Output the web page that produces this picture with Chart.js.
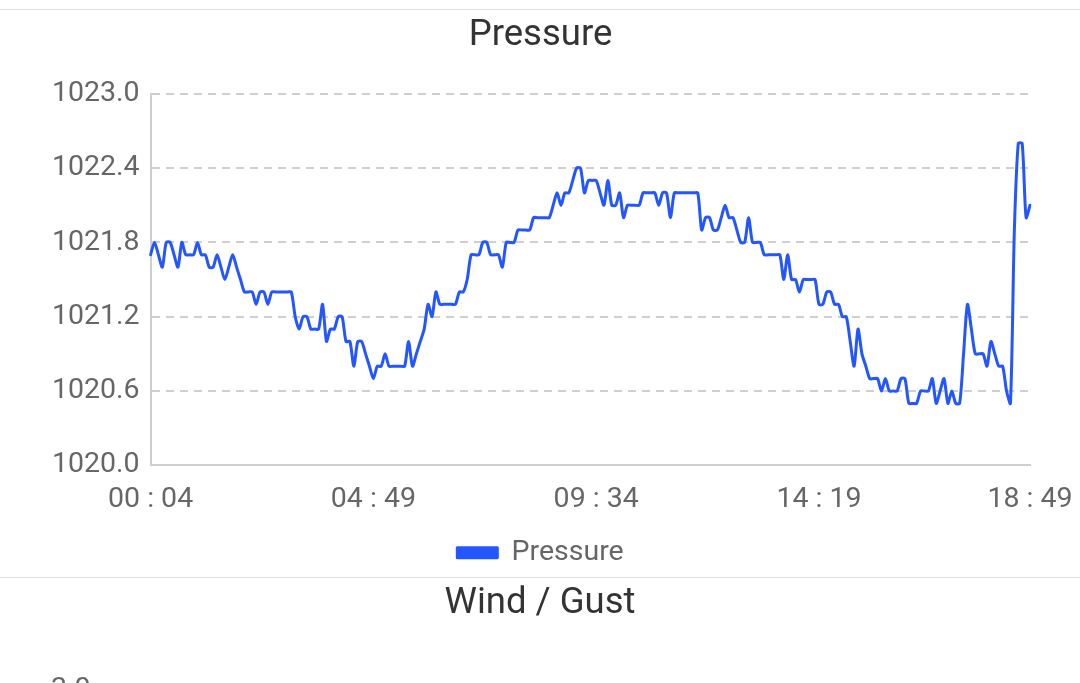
<!DOCTYPE html>
<html>
<head>
<meta charset="utf-8">
<script src="https://cdn.jsdelivr.net/npm/chart.js@4.4.1/dist/chart.umd.min.js"></script>
<style>
  html, body { margin: 0; padding: 0; background: #fff; overflow: hidden; }
  body { width: 1080px; height: 683px; font-family: Roboto, sans-serif; }
  .card { position: absolute; left: 0; width: 1080px; border-top: 1px solid #e3e3e3; }
  #c1 { top: 9px; height: 567px; }
  #c2 { top: 577px; height: 560px; }
  canvas { display: block; }
</style>
</head>
<body>
<div class="card" id="c1"><canvas id="pressure" width="1080" height="567"></canvas></div>
<div class="card" id="c2"><canvas id="wind" width="1080" height="560"></canvas></div>
<script>
// ---- data ----
const startTime = '00:04';
const stepMinutes = 5;
const pressure = [
  1021.7, 1021.8, 1021.7, 1021.6, 1021.8, 1021.8, 1021.7, 1021.6, 1021.8, 1021.7,
  1021.7, 1021.7, 1021.8, 1021.7, 1021.7, 1021.6, 1021.6, 1021.7, 1021.6, 1021.5,
  1021.6, 1021.7, 1021.6, 1021.5, 1021.4, 1021.4, 1021.4, 1021.3, 1021.4, 1021.4,
  1021.3, 1021.4, 1021.4, 1021.4, 1021.4, 1021.4, 1021.4, 1021.2, 1021.1, 1021.2,
  1021.2, 1021.1, 1021.1, 1021.1, 1021.3, 1021.0, 1021.1, 1021.1, 1021.2, 1021.2,
  1021.0, 1021.0, 1020.8, 1021.0, 1021.0, 1020.9, 1020.8, 1020.7, 1020.8, 1020.8,
  1020.9, 1020.8, 1020.8, 1020.8, 1020.8, 1020.8, 1021.0, 1020.8, 1020.9, 1021.0,
  1021.1, 1021.3, 1021.2, 1021.4, 1021.3, 1021.3, 1021.3, 1021.3, 1021.3, 1021.4,
  1021.4, 1021.5, 1021.7, 1021.7, 1021.7, 1021.8, 1021.8, 1021.7, 1021.7, 1021.7,
  1021.6, 1021.8, 1021.8, 1021.8, 1021.9, 1021.9, 1021.9, 1021.9, 1022.0, 1022.0,
  1022.0, 1022.0, 1022.0, 1022.1, 1022.2, 1022.1, 1022.2, 1022.2, 1022.3, 1022.4,
  1022.4, 1022.2, 1022.3, 1022.3, 1022.3, 1022.2, 1022.1, 1022.3, 1022.1, 1022.1,
  1022.2, 1022.0, 1022.1, 1022.1, 1022.1, 1022.1, 1022.2, 1022.2, 1022.2, 1022.2,
  1022.1, 1022.2, 1022.2, 1022.0, 1022.2, 1022.2, 1022.2, 1022.2, 1022.2, 1022.2,
  1022.2, 1021.9, 1022.0, 1022.0, 1021.9, 1021.9, 1022.0, 1022.1, 1022.0, 1022.0,
  1021.9, 1021.8, 1021.8, 1022.0, 1021.8, 1021.8, 1021.8, 1021.7, 1021.7, 1021.7,
  1021.7, 1021.7, 1021.5, 1021.7, 1021.5, 1021.5, 1021.4, 1021.5, 1021.5, 1021.5,
  1021.5, 1021.3, 1021.3, 1021.4, 1021.4, 1021.3, 1021.3, 1021.2, 1021.2, 1021.0,
  1020.8, 1021.1, 1020.9, 1020.8, 1020.7, 1020.7, 1020.7, 1020.6, 1020.7, 1020.6,
  1020.6, 1020.6, 1020.7, 1020.7, 1020.5, 1020.5, 1020.5, 1020.6, 1020.6, 1020.6,
  1020.7, 1020.5, 1020.6, 1020.7, 1020.5, 1020.6, 1020.5, 1020.5, 1020.9, 1021.3,
  1021.1, 1020.9, 1020.9, 1020.9, 1020.8, 1021.0, 1020.9, 1020.8, 1020.8, 1020.6,
  1020.5, 1021.9, 1022.6, 1022.6, 1022.0, 1022.1
];
const xTickLabels = ['00:04', '04:49', '09:34', '14:19', '18:49'];
const yTicks = [1020.0, 1020.6, 1021.2, 1021.8, 1022.4, 1023.0];
const windTicks = [3.0];
const wind = [];
const gust = [];

// time labels for each reading (regular 5-minute readings)
const [sh, sm] = startTime.split(':').map(Number);
const timeLabels = pressure.map((_, i) => {
  const t = sh * 60 + sm + i * stepMinutes;
  return String(Math.floor(t / 60)).padStart(2, '0') + ':' + String(t % 60).padStart(2, '0');
});
const fmt = s => s.replace(':', ' : ');

const FONT = 'Roboto';
const BLUE = '#2456ff';
const GRID = '#cfcfcf';

new Chart(document.getElementById('pressure'), {
  type: 'line',
  data: {
    labels: timeLabels,
    datasets: [{
      label: 'Pressure',
      data: pressure,
      borderColor: BLUE,
      backgroundColor: BLUE,
      borderWidth: 3,
      borderJoinStyle: 'round',
      borderCapStyle: 'round',
      pointRadius: 0,
      tension: 0.25,
      fill: false
    }]
  },
  options: {
    responsive: false,
    animation: false,
    devicePixelRatio: 1,
    layout: { padding: { top: 4, left: 41, right: 40, bottom: 0 } },
    plugins: {
      title: {
        display: true, text: 'Pressure', color: '#333',
        font: { family: FONT, size: 36.5, weight: 'normal' },
        padding: { top: 0, bottom: 36 }
      },
      legend: {
        position: 'bottom',
        labels: {
          color: '#666', boxWidth: 40, boxHeight: 10,
          font: { family: FONT, size: 28.5 }, padding: 20
        }
      },
      tooltip: { enabled: false }
    },
    scales: {
      x: {
        type: 'category',
        afterFit: s => { s.paddingRight = 50; },
        grid: {
          display: true, drawOnChartArea: false, drawTicks: true,
          tickLength: 15, color: 'rgba(0,0,0,0)', tickColor: 'rgba(0,0,0,0)'
        },
        border: { display: true, color: GRID, width: 2 },
        ticks: {
          autoSkip: false, maxRotation: 0, minRotation: 0, padding: 2,
          color: '#666', font: { family: FONT, size: 28.5 },
          callback: function (v, i) {
            const l = timeLabels[i];
            return xTickLabels.includes(l) ? fmt(l) : '';
          }
        }
      },
      y: {
        min: 1020, max: 1023,
        afterBuildTicks: axis => { axis.ticks = yTicks.map(v => ({ value: v })); },
        grid: { color: GRID, lineWidth: 2, drawTicks: false },
        border: { display: true, color: GRID, width: 2, dash: [8, 6] },
        ticks: {
          padding: 11, color: '#666', font: { family: FONT, size: 28.5 },
          callback: v => Number(v).toFixed(1)
        }
      }
    }
  }
});

new Chart(document.getElementById('wind'), {
  type: 'line',
  data: {
    labels: timeLabels,
    datasets: [
      { label: 'Wind', data: wind, borderColor: BLUE, pointRadius: 0 },
      { label: 'Gust', data: gust, borderColor: '#ff3b3b', pointRadius: 0 }
    ]
  },
  options: {
    responsive: false,
    animation: false,
    devicePixelRatio: 1,
    layout: { padding: { top: 4, left: 40, right: 40, bottom: 6 } },
    plugins: {
      title: {
        display: true, text: 'Wind / Gust', color: '#333',
        font: { family: FONT, size: 36.5, weight: 'normal' },
        padding: { top: 0, bottom: 64 }
      },
      legend: { display: false },
      tooltip: { enabled: false }
    },
    scales: {
      x: { display: false },
      y: {
        min: 0, max: 3,
        afterBuildTicks: axis => { axis.ticks = windTicks.map(v => ({ value: v })); },
        grid: { display: false, drawTicks: false },
        border: { display: false },
        ticks: {
          padding: 11, color: '#666', font: { family: FONT, size: 28.5 },
          callback: v => Number(v).toFixed(1)
        }
      }
    }
  }
});
</script>
</body>
</html>
